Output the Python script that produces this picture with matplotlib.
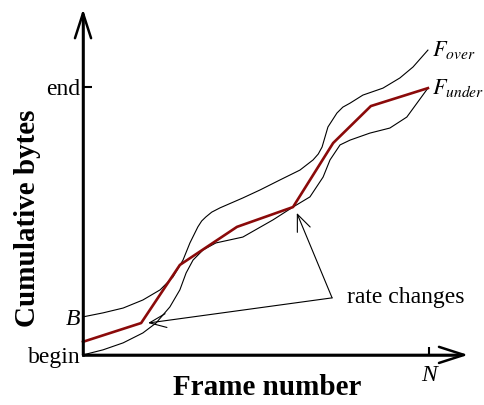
import numpy as np
import matplotlib.pyplot as plt

plt.rcParams['font.family'] = ['Liberation Serif', 'DejaVu Serif']
plt.rcParams['mathtext.fontset'] = 'stix'

# 帧号归一化到 N = 1，字节数归一化到 end = 1
B = 0.142
N = 1.0
END = 1.0

# 上界曲线 F_over
over_x = [0, 0.058, 0.116, 0.173, 0.223, 0.260, 0.289, 0.309, 0.332, 0.343, 0.355,
          0.372, 0.396, 0.462, 0.512, 0.569, 0.627, 0.665, 0.680, 0.691, 0.708,
          0.734, 0.751, 0.772, 0.809, 0.867, 0.916, 0.954, 0.997]
over_y = [0.142, 0.157, 0.175, 0.205, 0.243, 0.291, 0.354, 0.418, 0.478, 0.500, 0.515,
          0.533, 0.549, 0.586, 0.616, 0.653, 0.690, 0.728, 0.750, 0.776, 0.851,
          0.903, 0.925, 0.940, 0.970, 0.996, 1.034, 1.075, 1.138]

# 下界曲线 F_under
under_x = [0, 0.058, 0.116, 0.173, 0.211, 0.251, 0.280, 0.298, 0.318, 0.347, 0.384,
           0.462, 0.549, 0.607, 0.656, 0.694, 0.714, 0.743, 0.772, 0.829, 0.887,
           0.936, 0.997]
under_y = [0, 0.019, 0.045, 0.082, 0.119, 0.179, 0.243, 0.306, 0.354, 0.392, 0.418,
           0.440, 0.504, 0.552, 0.590, 0.664, 0.728, 0.784, 0.802, 0.828, 0.847,
           0.888, 0.996]

# 分段恒定速率的发送曲线
rate_x = [0, 0.168, 0.280, 0.445, 0.607, 0.723, 0.832, 0.997]
rate_y = [0.049, 0.119, 0.336, 0.478, 0.552, 0.791, 0.929, 0.996]

fig = plt.figure(figsize=(4.85, 4.05), dpi=100)
ax = fig.add_axes([0, 0, 1, 1])
ax.set_xlim(-0.240, 1.162)
ax.set_ylim(-0.187, 1.325)

ax.plot(over_x, over_y, color='k', lw=0.8, solid_joinstyle='round')
ax.plot(under_x, under_y, color='k', lw=0.8, solid_joinstyle='round')
ax.plot(rate_x, rate_y, color='#8b0a0a', lw=1.9)

# 坐标轴
for s in ['top', 'right']:
    ax.spines[s].set_visible(False)
ax.spines['left'].set_position(('data', 0))
ax.spines['bottom'].set_position(('data', 0))
ax.spines['left'].set_bounds(0, 1.27)
ax.spines['bottom'].set_bounds(0, 1.09)
ax.spines['left'].set_linewidth(1.8)
ax.spines['bottom'].set_linewidth(1.8)
arrow = dict(arrowstyle='->,head_length=0.9,head_width=0.29', lw=1.8, color='k',
             shrinkA=0, shrinkB=0, mutation_scale=20)
ax.annotate('', xy=(0, 1.291), xytext=(0, 0), arrowprops=arrow)
ax.annotate('', xy=(1.113, 0), xytext=(0, 0), arrowprops=arrow)

ax.set_yticks([0, B, END])
ax.set_yticklabels(['begin', 'B', 'end'])
ax.yaxis.get_ticklabels()[1].set_fontstyle('italic')
for i in [0, 1]:
    ax.yaxis.get_major_ticks()[i].tick1line.set_visible(False)
ax.set_xticks([N])
ax.set_xticklabels(['N'], fontstyle='italic')
ax.tick_params(axis='y', direction='in', length=6.5, width=1.5, pad=2, labelsize=17)
ax.tick_params(axis='x', direction='in', length=6, width=1.5, pad=7, labelsize=17)

ax.text(0.056, 0.462, 'Cumulative bytes', transform=ax.transAxes, rotation=90,
        ha='center', va='center', fontsize=21, fontweight='bold')
ax.text(0.550, 0.042, 'Frame number', transform=ax.transAxes,
        ha='center', va='center', fontsize=21, fontweight='bold')

ax.text(1.008, 1.138, r'$F_{over}$', fontsize=16, ha='left', va='center')
ax.text(1.008, 0.996, r'$F_{under}$', fontsize=16, ha='left', va='center')

# 速率变化点的标注
src = (0.720, 0.213)
thin = dict(arrowstyle='->,head_length=0.6,head_width=0.25', lw=0.8, color='k',
            shrinkA=0, shrinkB=0, mutation_scale=20)
ax.annotate('', xy=(0.618, 0.530), xytext=src, arrowprops=thin)
ax.annotate('', xy=(0.188, 0.119), xytext=src, arrowprops=thin)
ax.text(0.763, 0.213, 'rate changes', fontsize=17, ha='left', va='center')

plt.savefig('out.png', dpi=100)
